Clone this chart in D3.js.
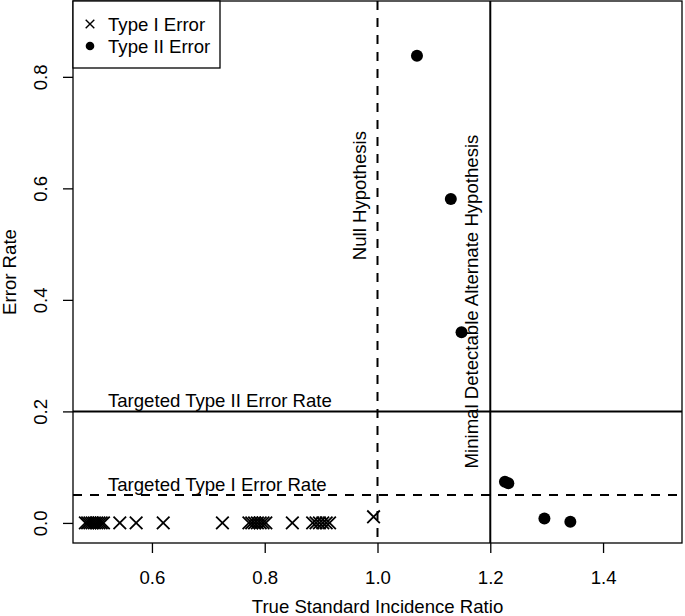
<!DOCTYPE html>
<html>
<head>
<meta charset="utf-8">
<script src="https://cdn.jsdelivr.net/npm/d3@7"></script>
<style>
  body { margin: 0; background: #fff; }
  svg text { font-family: "Liberation Sans", Arial, sans-serif; fill: #000; }
</style>
</head>
<body>
<svg id="graph" width="685" height="616"></svg>
<script>
// Type I error points (x = true SIR, y = error rate)
const typeIX = [0.482, 0.486, 0.49, 0.494, 0.498, 0.502, 0.506, 0.51, 0.514,
                0.543, 0.572, 0.62, 0.725,
                0.772, 0.777, 0.782, 0.787, 0.792, 0.797, 0.802,
                0.849, 0.885, 0.891, 0.897, 0.903, 0.909, 0.915, 0.993];
const typeIY = [0, 0, 0, 0, 0, 0, 0, 0, 0,
                0, 0, 0, 0,
                0, 0, 0, 0, 0, 0, 0,
                0, 0, 0, 0, 0, 0, 0, 0.011];

// Type II error points
const typeIIX = [1.07, 1.13, 1.149, 1.226, 1.232, 1.296, 1.342];
const typeIIY = [0.838, 0.581, 0.342, 0.074, 0.071, 0.008, 0.002];

const xTicks = [0.6, 0.8, 1.0, 1.2, 1.4];
const yTicks = [0.0, 0.2, 0.4, 0.6, 0.8];

const nullSIR = 1.0;
const altSIR = 1.2;
const alphaTarget = 0.05;
const betaTarget = 0.2;

const fs = 18.6;
const svg = d3.select("#graph");
const pLeft = 73, pRight = 682, pTop = 1, pBottom = 543;

const x = d3.scaleLinear().domain([0.46, 1.54]).range([pLeft, pRight]);
const y = d3.scaleLinear().domain([-0.036, 0.936]).range([pBottom, pTop]);

// axes, R style
const xAxis = svg.append("g").attr("transform", `translate(0,${pBottom})`)
    .call(d3.axisBottom(x).tickValues(xTicks).tickFormat(d3.format(".1f")).tickSize(10).tickPadding(18));
const yAxis = svg.append("g").attr("transform", `translate(${pLeft},0)`)
    .call(d3.axisLeft(y).tickValues(yTicks).tickFormat(d3.format(".1f")).tickSize(10));
[xAxis, yAxis].forEach(a => {
    a.select(".domain").remove();
    a.selectAll(".tick line").attr("stroke", "#000").attr("stroke-width", 1.3);
    a.selectAll(".tick text").attr("font-size", fs).attr("fill", "#000")
        .attr("font-family", "Liberation Sans, Arial, sans-serif");
});
yAxis.selectAll(".tick text")
    .attr("x", null).attr("dy", null)
    .attr("text-anchor", "middle")
    .attr("transform", "translate(-26,0) rotate(-90)");

// plot box
svg.append("rect")
    .attr("x", pLeft).attr("y", pTop)
    .attr("width", pRight - pLeft).attr("height", pBottom - pTop)
    .attr("fill", "none").attr("stroke", "#000").attr("stroke-width", 1.3);

// reference lines
svg.append("line")
    .attr("x1", pLeft).attr("x2", pRight)
    .attr("y1", y(betaTarget)).attr("y2", y(betaTarget))
    .attr("stroke", "#000").attr("stroke-width", 2);
svg.append("line")
    .attr("x1", pLeft).attr("x2", pRight)
    .attr("y1", y(alphaTarget)).attr("y2", y(alphaTarget))
    .attr("stroke", "#000").attr("stroke-width", 2).attr("stroke-dasharray", "9,8");
svg.append("line")
    .attr("x1", x(nullSIR)).attr("x2", x(nullSIR))
    .attr("y1", pTop).attr("y2", pBottom)
    .attr("stroke", "#000").attr("stroke-width", 2).attr("stroke-dasharray", "9,8");
svg.append("line")
    .attr("x1", x(altSIR)).attr("x2", x(altSIR))
    .attr("y1", pTop).attr("y2", pBottom)
    .attr("stroke", "#000").attr("stroke-width", 2);

// line labels
svg.append("text")
    .attr("x", x(0.522)).attr("y", y(betaTarget) - 4)
    .attr("font-size", fs).text("Targeted Type II Error Rate");
svg.append("text")
    .attr("x", x(0.522)).attr("y", y(alphaTarget) - 4)
    .attr("font-size", fs).text("Targeted Type I Error Rate");
svg.append("text")
    .attr("transform", `translate(${x(nullSIR) - 12},${y(0.587)}) rotate(-90)`)
    .attr("text-anchor", "middle").attr("font-size", fs).text("Null Hypothesis");
svg.append("text")
    .attr("transform", `translate(${x(altSIR) - 12},${y(0.397)}) rotate(-90)`)
    .attr("text-anchor", "middle").attr("font-size", fs).text("Minimal Detectable Alternate Hypothesis");

// Type I crosses
const cross = (s) => `M${-s},${-s}L${s},${s}M${-s},${s}L${s},${-s}`;
svg.append("g").selectAll("path")
    .data(typeIX.map((v, i) => [v, typeIY[i]]))
    .enter().append("path")
    .attr("transform", d => `translate(${x(d[0])},${y(d[1])})`)
    .attr("d", cross(6.3))
    .attr("stroke", "#000").attr("stroke-width", 1.8).attr("fill", "none");

// Type II dots
svg.append("g").selectAll("circle")
    .data(typeIIX.map((v, i) => [v, typeIIY[i]]))
    .enter().append("circle")
    .attr("cx", d => x(d[0]))
    .attr("cy", d => y(d[1]))
    .attr("r", 6)
    .attr("fill", "#000");

// axis titles
svg.append("text")
    .attr("x", (pLeft + pRight) / 2).attr("y", 613)
    .attr("text-anchor", "middle").attr("font-size", fs)
    .text("True Standard Incidence Ratio");
svg.append("text")
    .attr("transform", `translate(16,${(pTop + pBottom) / 2}) rotate(-90)`)
    .attr("text-anchor", "middle").attr("font-size", fs)
    .text("Error Rate");

// legend
const legend = svg.append("g");
legend.append("rect")
    .attr("x", pLeft).attr("y", pTop).attr("width", 147).attr("height", 67)
    .attr("fill", "#fff").attr("stroke", "#000").attr("stroke-width", 1.3);
legend.append("path")
    .attr("transform", `translate(90,24)`)
    .attr("d", cross(4.3))
    .attr("stroke", "#000").attr("stroke-width", 1.4);
legend.append("circle").attr("cx", 90).attr("cy", 46).attr("r", 4.3).attr("fill", "#000");
legend.append("text").attr("x", 108).attr("y", 31).attr("font-size", fs).text("Type I Error");
legend.append("text").attr("x", 108).attr("y", 53).attr("font-size", fs).text("Type II Error");
</script>
</body>
</html>
